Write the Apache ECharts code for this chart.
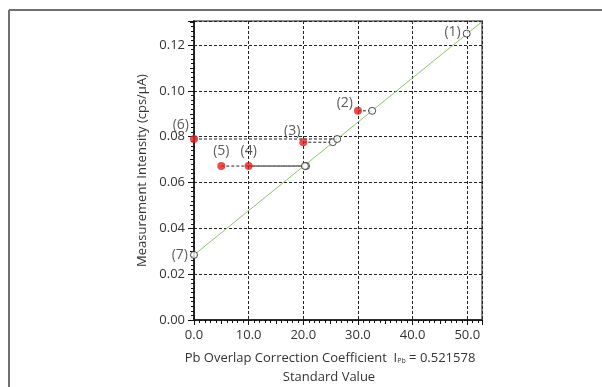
<!DOCTYPE html>
<html><head><meta charset="utf-8">
<script src="https://cdn.jsdelivr.net/npm/echarts@6/dist/echarts.min.js"></script>
<style>html,body{margin:0;padding:0;background:#fff}#c{width:602px;height:387px}</style>
</head><body><div id="c"></div>
<script>
// ---- data ----
const pointLabels = ['(1)','(2)','(3)','(4)','(5)','(6)','(7)'];
const standardValue = [null, 30, 20, 10, 5, 0, null];          // red points (x)
const measuredIntensity = [0.125, 0.0913, 0.0776, 0.0672, 0.0672, 0.079, 0.0284];
const fittedValue = [49.9, 32.6, 25.4, 20.5, 20.3, 26.2, 0];    // open circles (x)
const fitLineX = [0, 52.7];
const fitLineY = [0.0284, 0.1302];
const xTicks = [0, 10, 20, 30, 40, 50];
const yTicks = [0, 0.02, 0.04, 0.06, 0.08, 0.10, 0.12];
const xMax = 52.7, yMax = 0.1305;

// ---- label placement (style only) ----
const labelStyle = [
  {position:'left', distance:2, offset:[0,-2]},
  {position:'left', distance:1, offset:[0,-8]},
  {position:'left', distance:1, offset:[2,-11]},
  {position:'top', distance:4},
  {position:'top', distance:4},
  {position:'left', distance:1, offset:[0,-14]},
  {position:'left', distance:2}
];

const FONT = '"Open Sans", "Noto Sans", sans-serif';
const TXT = '#333';
const series = [];

series.push({
  type:'line', data: fitLineX.map((x,i)=>[x, fitLineY[i]]),
  showSymbol:false, symbol:'none', lineStyle:{color:'#8cc56a', width:1}, z:2, silent:true, animation:false
});

standardValue.forEach((sx,i)=>{
  if (sx === null) return;
  series.push({
    type:'line', data:[[sx, measuredIntensity[i]],[fittedValue[i], measuredIntensity[i]]],
    symbol:'none', lineStyle:{color:'#222', width:1, type:[3,2]}, z:3, animation:false
  });
});

const redData = [], openData = [];
pointLabels.forEach((lab,i)=>{
  const ls = Object.assign({show:true, formatter:lab, color:TXT, fontSize:14, fontFamily:FONT}, labelStyle[i]);
  if (standardValue[i] !== null) {
    redData.push({value:[standardValue[i], measuredIntensity[i]], label:ls});
    openData.push({value:[fittedValue[i], measuredIntensity[i]]});
  } else {
    openData.push({value:[fittedValue[i], measuredIntensity[i]], label:ls});
  }
});

series.push({
  type:'scatter', data:openData, symbol:'circle', symbolSize:7,
  itemStyle:{color:'#fff', borderColor:'#222', borderWidth:1}, z:5, animation:false
});
series.push({
  type:'scatter', data:redData, symbol:'circle', symbolSize:8,
  itemStyle:{color:'#e0201e'}, z:6, animation:false
});

const chart = echarts.init(document.getElementById('c'), null, {renderer:'canvas'});
chart.setOption({
  animation:false,
  grid:{left:194, right:120, top:21, bottom:67, show:true, borderColor:'#8a8a8a', borderWidth:2, backgroundColor:'transparent'},
  xAxis:[{
    type:'value', min:0, max:xMax, interval:10,
    axisLine:{show:true, onZero:false, lineStyle:{color:'#111', width:1.5}},
    axisTick:{show:true, length:5, lineStyle:{color:'#111'}},
    minorTick:{show:true, splitNumber:10, length:3, lineStyle:{color:'#111'}},
    axisLabel:{color:TXT, fontSize:13, fontFamily:FONT, margin:9, showMaxLabel:false,
      formatter:v=> xTicks.includes(v) ? v.toFixed(1) : ''},
    splitLine:{show:true, lineStyle:{color:'#222', width:1, type:[3,2]}}
  },{
    type:'value', min:0, max:xMax, interval:5, position:'bottom',
    axisLine:{show:false}, axisLabel:{show:false}, splitLine:{show:false},
    axisTick:{show:true, length:4, lineStyle:{color:'#111'}}
  }],
  yAxis:[{
    type:'value', min:0, max:yMax, interval:0.02,
    axisLine:{show:true, onZero:false, lineStyle:{color:'#111', width:1.5}},
    axisTick:{show:true, length:6, lineStyle:{color:'#111'}},
    minorTick:{show:true, splitNumber:10, length:3, lineStyle:{color:'#111'}},
    axisLabel:{color:TXT, fontSize:13, fontFamily:FONT, margin:9, showMaxLabel:false,
      formatter:v=>{ const t = yTicks.find(k=>Math.abs(k-v)<1e-9); return t===undefined ? '' : t.toFixed(2);} },
    splitLine:{show:true, lineStyle:{color:'#222', width:1, type:[3,2]}},
    name:'Measurement Intensity (cps/μA)', nameLocation:'middle', nameGap:45,
    nameTextStyle:{color:TXT, fontSize:13, fontFamily:FONT}
  },{
    type:'value', min:0, max:yMax, interval:0.01, position:'left',
    axisLine:{show:false}, axisLabel:{show:false}, splitLine:{show:false},
    axisTick:{show:true, length:4, lineStyle:{color:'#111'}}
  }],
  series: series,
  graphic:[
    {type:'line', shape:{x1:9, y1:10, x2:602, y2:10}, style:{stroke:'#707070', lineWidth:2}, silent:true},
    {type:'line', shape:{x1:9, y1:10, x2:9, y2:387}, style:{stroke:'#707070', lineWidth:2}, silent:true},
    {type:'text', x:330, y:358, style:{
      text:'Pb Overlap Correction Coefficient  {s|I}{sub|Pb}{s| = 0.521578}',
      x:0, y:0, align:'center', verticalAlign:'middle', fill:TXT, fontSize:13, fontFamily:FONT,
      rich:{s:{fontSize:13, fontFamily:FONT, fill:TXT, color:TXT}, sub:{fontSize:7, fontFamily:FONT, fill:TXT, color:TXT, padding:[5,0,0,0]}}
    }},
    {type:'text', x:329, y:377, style:{text:'Standard Value', x:0, y:0, align:'center', verticalAlign:'middle', fill:TXT, fontSize:13, fontFamily:FONT}}
  ]
});
</script>
</body></html>
